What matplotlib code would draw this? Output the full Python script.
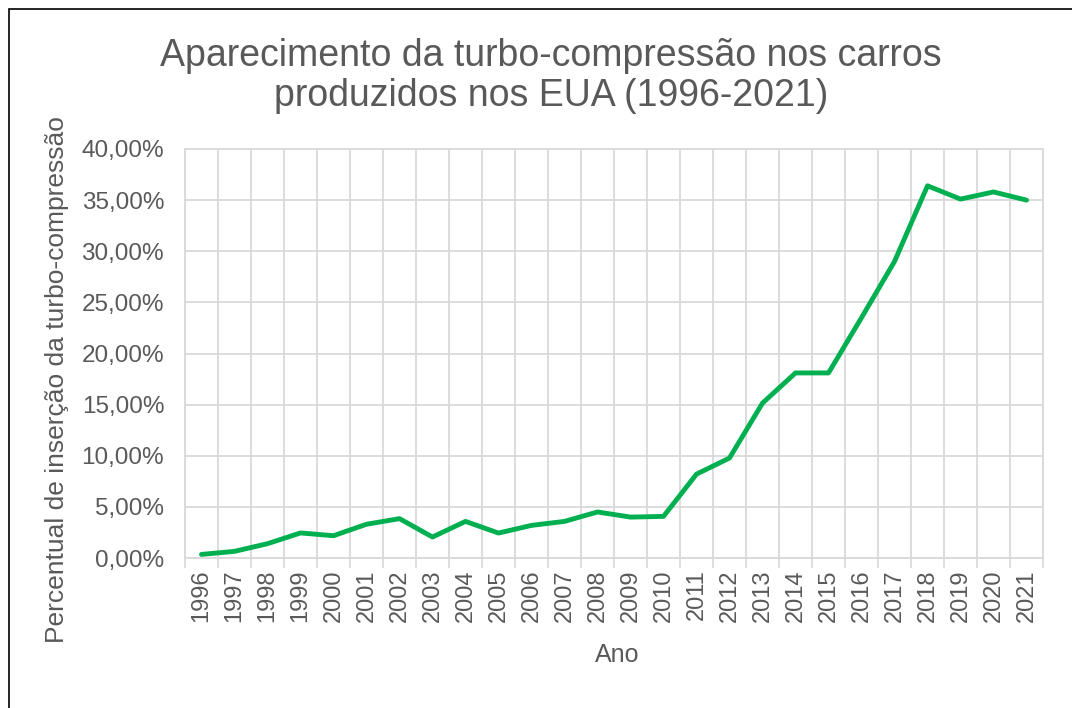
import numpy as np
import matplotlib.pyplot as plt
from matplotlib.patches import Rectangle
from matplotlib.ticker import FixedLocator, FuncFormatter

plt.rcParams['font.family'] = ['Liberation Sans', 'DejaVu Sans']

anos = [str(a) for a in range(1996, 2022)]
percentual = [0.35, 0.65, 1.4, 2.45, 2.18, 3.3, 3.85, 2.05, 3.58, 2.44,
              3.19, 3.58, 4.5, 4.0, 4.07, 8.2, 9.78, 15.15, 18.1, 18.1,
              23.5, 29.0, 36.4, 35.1, 35.8, 35.0]

titulo = "Aparecimento da turbo-compressão nos carros\nproduzidos nos EUA (1996-2021)"
rotulo_y = "Percentual de inserção da turbo-compressão"
rotulo_x = "Ano"

texto = '#595959'
grade = '#D9D9D9'

fig = plt.figure(figsize=(10.72, 7.08), dpi=100)
ax = fig.add_axes([185 / 1072, 1 - 558 / 708, (1043 - 185) / 1072, (558 - 149) / 708])

x = np.arange(len(anos))
ax.plot(x, percentual, color='#00B050', linewidth=3.5, solid_joinstyle='round',
        solid_capstyle='round', zorder=3)

ax.set_xlim(-0.5, len(anos) - 0.5)
ax.set_ylim(0, 40)

# categorias: marcas nas divisas, rótulos no centro
ax.xaxis.set_major_locator(FixedLocator(np.arange(-0.5, len(anos), 1.0)))
ax.xaxis.set_major_formatter(FuncFormatter(lambda v, p: ''))
ax.set_xticks(x, anos, minor=True, rotation=90)
ax.tick_params(axis='x', which='major', length=7, width=1.2, color=grade)
ax.tick_params(axis='x', which='minor', length=0, pad=8, labelsize=17, labelcolor=texto)

ax.set_yticks(np.arange(0, 41, 5))
ax.yaxis.set_major_formatter(FuncFormatter(lambda v, p: f"{v:.2f}%".replace('.', ',')))
ax.tick_params(axis='y', length=0, pad=15, labelsize=17.5, labelcolor=texto)

ax.grid(True, which='major', color=grade, linewidth=1.3)
ax.set_axisbelow(True)
for s in ax.spines.values():
    s.set_color(grade)
    s.set_linewidth(1.3)

fig.text(57 / 1072, 1 - 380 / 708, rotulo_y, rotation=90, ha='center', va='center',
         fontsize=19, color=texto)
fig.text(617 / 1072, 1 - 655 / 708, rotulo_x, ha='center', va='center',
         fontsize=18, color=texto)

fig.text(551 / 1072, 1 - 76 / 708, titulo, ha='center', va='center',
         fontsize=27, color=texto, linespacing=1.12)

fig.patches.append(Rectangle((9 / 1072, -0.1), 1.2, 1 - 9 / 708 + 0.1,
                             transform=fig.transFigure, fill=False,
                             edgecolor='black', linewidth=1.2))

fig.savefig('out.png', dpi=100)
